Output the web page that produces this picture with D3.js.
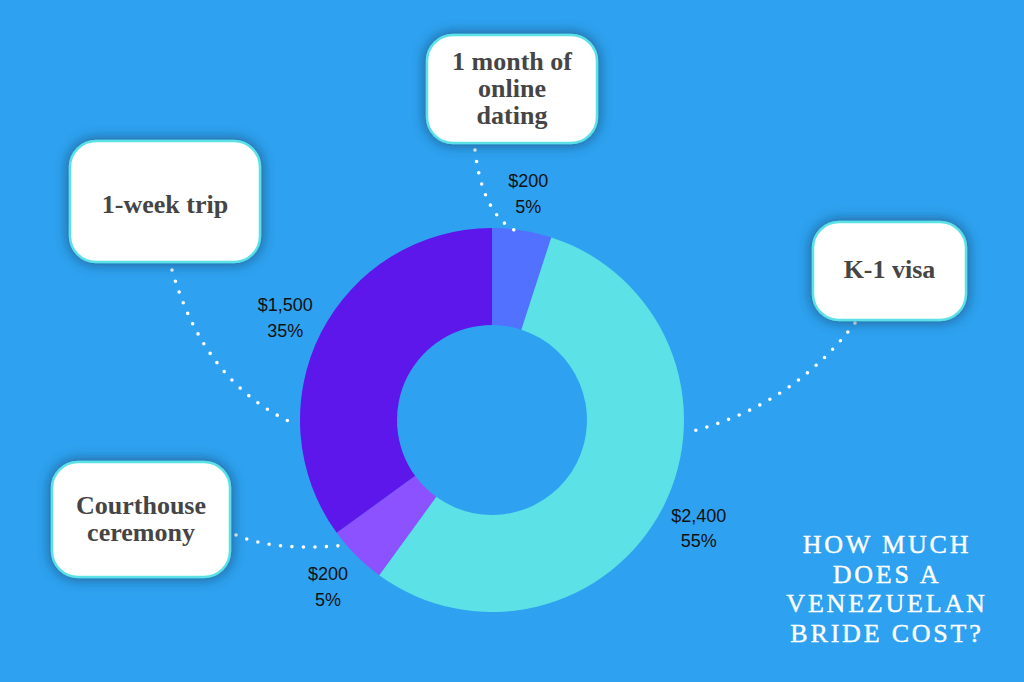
<!DOCTYPE html>
<html>
<head>
<meta charset="utf-8">
<script src="https://cdn.jsdelivr.net/npm/d3@7"></script>
<style>
  html, body { margin: 0; padding: 0; background: #2ea2f0; }
  svg { display: block; }
</style>
</head>
<body>
<svg id="chart" width="1024" height="682"></svg>
<script>
// chart data, clockwise from 12 o'clock
const categories = ['1 month of online dating', 'K-1 visa', 'Courthouse ceremony', '1-week trip'];
const costs = [200, 2400, 200, 1500];
const percents = [5, 55, 5, 35];
const sliceColors = ['#5271ff', '#5ce1e6', '#8c52ff', '#5e17eb'];
const titleLines = ['HOW MUCH', 'DOES A', 'VENEZUELAN', 'BRIDE COST?'];

// callout boxes (layout only): box rect, text lines, connector path
const callouts = [
  {lines: ['1 month of', 'online', 'dating'], x: 427, y: 35, w: 170, h: 108, base: 70, lead: 27,
   from: [475, 150], ctrl: [482, 212], to: [514, 230]},
  {lines: ['K-1 visa'], x: 813, y: 222, w: 153, h: 98, base: 278, lead: 0,
   from: [855, 323], ctrl: [790, 408], to: [685, 433]},
  {lines: ['Courthouse', 'ceremony'], x: 52, y: 462, w: 178, h: 115, base: 514, lead: 27,
   from: [236, 535], ctrl: [275, 552], to: [348, 545]},
  {lines: ['1-week trip'], x: 70, y: 141, w: 190, h: 121, base: 213, lead: 0,
   from: [172, 270], ctrl: [205, 385], to: [297, 425]},
];

const svg = d3.select('#chart');
const cx = 492, cy = 420, rOuter = 192, rInner = 95, rLabel = 232;

const defs = svg.append('defs');
const shadow = defs.append('filter').attr('id', 'shadow')
  .attr('x', '-30%').attr('y', '-30%').attr('width', '160%').attr('height', '160%');
shadow.append('feDropShadow')
  .attr('dx', 0).attr('dy', 0).attr('stdDeviation', 7)
  .attr('flood-color', '#1b3f66').attr('flood-opacity', 0.8);

svg.append('rect').attr('width', 1024).attr('height', 682).attr('fill', '#2ea2f0');

const pie = d3.pie().sort(null).value((d, i) => percents[i]);
const arcs = pie(categories);
const arc = d3.arc().innerRadius(rInner).outerRadius(rOuter);
const labelArc = d3.arc().innerRadius(rLabel).outerRadius(rLabel);

const g = svg.append('g').attr('transform', `translate(${cx},${cy})`);
g.selectAll('path.slice')
  .data(arcs)
  .enter()
  .append('path')
  .attr('class', 'slice')
  .attr('d', arc)
  .attr('fill', (d, i) => sliceColors[i]);

// dotted connectors
svg.selectAll('path.leader')
  .data(callouts)
  .enter()
  .append('path')
  .attr('class', 'leader')
  .attr('d', c => `M${c.from[0]},${c.from[1]} Q${c.ctrl[0]},${c.ctrl[1]} ${c.to[0]},${c.to[1]}`)
  .attr('fill', 'none')
  .attr('stroke', '#ffffff')
  .attr('stroke-width', 3.6)
  .attr('stroke-linecap', 'round')
  .attr('stroke-dasharray', '0 11.5');

// value labels
const fmt = d3.format('$,');
const vl = g.selectAll('text.value')
  .data(arcs)
  .enter()
  .append('text')
  .attr('class', 'value')
  .attr('transform', d => {
    const [x, y] = labelArc.centroid(d);
    return `translate(${x},${y})`;
  })
  .attr('text-anchor', 'middle')
  .attr('font-family', '"Liberation Sans", Arial, sans-serif')
  .attr('font-size', 18)
  .attr('fill', '#111');
vl.append('tspan').attr('x', 0).attr('dy', '-0.2em').text((d, i) => fmt(costs[i]));
vl.append('tspan').attr('x', 0).attr('dy', '1.42em').text((d, i) => percents[i] + '%');

// callout boxes
const box = svg.selectAll('g.callout')
  .data(callouts)
  .enter()
  .append('g')
  .attr('class', 'callout');
box.append('rect')
  .attr('x', c => c.x).attr('y', c => c.y)
  .attr('width', c => c.w).attr('height', c => c.h)
  .attr('rx', 26).attr('ry', 26)
  .attr('fill', '#ffffff')
  .attr('stroke', '#5ce1e6')
  .attr('stroke-width', 2.5)
  .attr('filter', 'url(#shadow)');
box.each(function(c) {
  const t = d3.select(this).append('text')
    .attr('text-anchor', 'middle')
    .attr('font-family', '"Liberation Serif", "DejaVu Serif", serif')
    .attr('font-weight', 'bold')
    .attr('font-size', 26)
    .attr('fill', '#454545');
  c.lines.forEach((line, i) => {
    t.append('tspan')
      .attr('x', c.x + c.w / 2)
      .attr('y', c.base + i * c.lead)
      .text(line);
  });
});

// title
svg.append('text')
  .attr('text-anchor', 'middle')
  .attr('font-family', '"Liberation Serif", "DejaVu Serif", serif')
  .attr('font-size', 26)
  .attr('letter-spacing', 2.8)
  .attr('fill', '#ffffff')
  .attr('stroke', '#ffffff')
  .attr('stroke-width', 0.4)
  .selectAll('tspan')
  .data(titleLines)
  .enter()
  .append('tspan')
  .attr('x', 887)
  .attr('y', (d, i) => 553 + i * 29.5)
  .text(d => d);
</script>
</body>
</html>
